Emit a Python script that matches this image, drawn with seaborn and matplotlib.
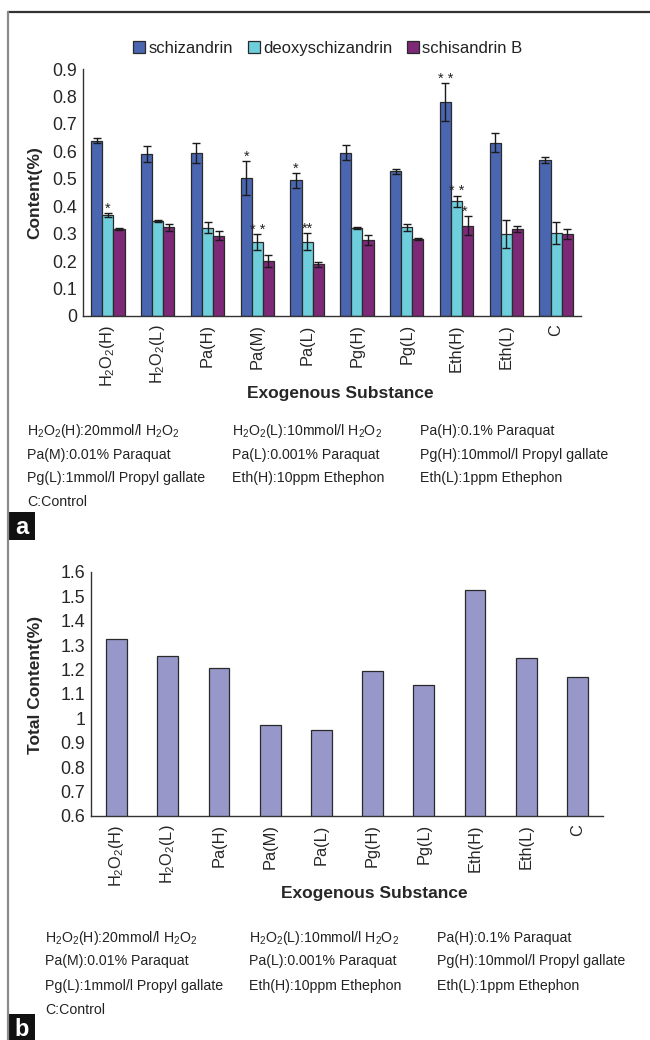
import numpy as np
import pandas as pd
import matplotlib.pyplot as plt
import seaborn as sns
from matplotlib.patches import Patch, Rectangle
from matplotlib.lines import Line2D

# ==========================
# DATA
# ==========================

categories = ["H2O2(H)", "H2O2(L)", "Pa(H)", "Pa(M)", "Pa(L)",
              "Pg(H)", "Pg(L)", "Eth(H)", "Eth(L)", "C"]
tick_labels = [r"H$_2$O$_2$(H)", r"H$_2$O$_2$(L)", "Pa(H)", "Pa(M)", "Pa(L)",
               "Pg(H)", "Pg(L)", "Eth(H)", "Eth(L)", "C"]
compounds = ["schizandrin", "deoxyschizandrin", "schisandrin B"]

schizandrin = [0.639, 0.590, 0.594, 0.502, 0.494, 0.595, 0.527, 0.779, 0.632, 0.568]
schizandrin_err = [0.010, 0.028, 0.035, 0.062, 0.028, 0.027, 0.010, 0.069, 0.034, 0.012]
deoxyschizandrin = [0.368, 0.346, 0.321, 0.270, 0.270, 0.321, 0.324, 0.418, 0.299, 0.302]
deoxyschizandrin_err = [0.008, 0.005, 0.020, 0.029, 0.031, 0.004, 0.013, 0.020, 0.052, 0.040]
schisandrin_b = [0.317, 0.324, 0.292, 0.200, 0.188, 0.277, 0.281, 0.329, 0.317, 0.299]
schisandrin_b_err = [0.002, 0.013, 0.016, 0.022, 0.008, 0.017, 0.003, 0.034, 0.011, 0.019]

total_content = [1.325, 1.255, 1.207, 0.973, 0.952, 1.195, 1.137, 1.527, 1.249, 1.168]

# significance marks: (category, compound, text)
marks = [
    ("H2O2(H)", "deoxyschizandrin", "*"),
    ("Pa(M)", "schizandrin", "*"),
    ("Pa(M)", "deoxyschizandrin", "* *"),
    ("Pa(L)", "schizandrin", "*"),
    ("Pa(L)", "deoxyschizandrin", "**"),
    ("Eth(H)", "schizandrin", "* *"),
    ("Eth(H)", "deoxyschizandrin", "* *"),
    ("Eth(H)", "schisandrin B", "*"),
]

legend_notes = [
    r"H$_2$O$_2$(H):20mmol/l H$_2$O$_2$", r"H$_2$O$_2$(L):10mmol/l H$_2$O$_2$", "Pa(H):0.1% Paraquat",
    "Pa(M):0.01% Paraquat", "Pa(L):0.001% Paraquat", "Pg(H):10mmol/l Propyl gallate",
    "Pg(L):1mmol/l Propyl gallate", "Eth(H):10ppm Ethephon", "Eth(L):1ppm Ethephon",
    "C:Control",
]

colors = ["#4a66b0", "#6ecedb", "#7e2878"]
total_color = "#9797c9"
edge = "#2a2a2a"

# ==========================
# STYLE
# ==========================

sns.set_style("white")
plt.rcParams["font.family"] = ["Liberation Sans", "DejaVu Sans"]
plt.rcParams["mathtext.fontset"] = "custom"
plt.rcParams["mathtext.rm"] = "Liberation Sans"
plt.rcParams["mathtext.it"] = "Liberation Sans"
plt.rcParams["text.color"] = "#222222"

W, H = 650, 1040
fig = plt.figure(figsize=(6.5, 10.4), dpi=100)


def fx(px):
    return px / W


def fy(py):
    return 1 - py / H


def style_axes(ax, ylim, step):
    ax.set_xlim(-0.5, len(categories) - 0.5)
    ax.set_ylim(*ylim)
    yt = np.round(np.arange(ylim[0], ylim[1] + step / 2, step), 2)
    ax.set_yticks(yt)
    ax.set_yticklabels([f"{v:g}" for v in yt], fontsize=12.8)
    ax.set_xticks(range(len(categories)))
    ax.set_xticklabels(tick_labels, rotation=90, fontsize=11.8)
    ax.set_xticks(np.arange(-0.5, len(categories), 1), minor=True)
    ax.tick_params(axis="x", which="major", length=0, pad=6)
    ax.tick_params(axis="x", which="minor", length=5, direction="in",
                   width=1, color="#333333")
    ax.tick_params(axis="y", length=5, direction="in", width=1,
                   color="#333333", pad=4)
    for s in ["top", "right"]:
        ax.spines[s].set_visible(False)
    for s in ["left", "bottom"]:
        ax.spines[s].set_color("#333333")
        ax.spines[s].set_linewidth(1.0)


# ==========================
# PANEL A
# ==========================

df = pd.DataFrame({
    "Substance": categories * 3,
    "Compound": np.repeat(compounds, len(categories)),
    "Content": schizandrin + deoxyschizandrin + schisandrin_b,
    "Err": schizandrin_err + deoxyschizandrin_err + schisandrin_b_err,
})

ax1 = fig.add_axes([fx(83), fy(316), fx(581) - fx(83), fy(69) - fy(316)])
sns.barplot(data=df, x="Substance", y="Content", hue="Compound",
            order=categories, hue_order=compounds, palette=colors,
            width=0.67, errorbar=None, edgecolor=edge, linewidth=0.9,
            saturation=1, ax=ax1)
if ax1.get_legend() is not None:
    ax1.get_legend().remove()

bar_top = {}
for cont, comp in zip(ax1.containers, compounds):
    sub = df[df["Compound"] == comp]
    xs = [p.get_x() + p.get_width() / 2 for p in cont.patches]
    ax1.errorbar(xs, sub["Content"], yerr=sub["Err"], fmt="none",
                 ecolor="#1a1a1a", elinewidth=1, capsize=3, capthick=1)
    for x, (_, r) in zip(xs, sub.iterrows()):
        bar_top[(r["Substance"], comp)] = (x, r["Content"] + r["Err"])

for cat, comp, txt in marks:
    x, top = bar_top[(cat, comp)]
    if comp == "schisandrin B":
        x -= 0.06
    ax1.text(x, top + 0.016, txt, ha="center", va="center", fontsize=10.5)

style_axes(ax1, (0, 0.9), 0.1)
ax1.set_xlabel("Exogenous Substance", fontsize=12.5, fontweight="bold")
ax1.xaxis.set_label_coords(0.516, -0.283)
ax1.set_ylabel("Content(%)", fontsize=12.5, fontweight="bold")
ax1.yaxis.set_label_coords(-0.082, 0.5)

handles = [Patch(facecolor=c, edgecolor=edge, linewidth=0.9) for c in colors]
fig.legend(handles, compounds, loc="center", ncol=3, frameon=False,
           bbox_to_anchor=(fx(328), fy(48)), fontsize=12,
           handlelength=0.7, handleheight=0.7, handletextpad=0.2,
           columnspacing=0.9)

# ==========================
# PANEL B
# ==========================

df_total = pd.DataFrame({"Substance": categories, "Total": total_content})

ax2 = fig.add_axes([fx(91), fy(816), fx(603) - fx(91), fy(572) - fy(816)])
sns.barplot(data=df_total, x="Substance", y="Total", order=categories,
            color=total_color, width=0.41, errorbar=None, edgecolor=edge,
            linewidth=0.9, saturation=1, ax=ax2)
style_axes(ax2, (0.6, 1.6), 0.1)
ax2.set_xlabel("Exogenous Substance", fontsize=12.5, fontweight="bold")
ax2.xaxis.set_label_coords(0.553, -0.287)
ax2.set_ylabel("Total Content(%)", fontsize=12.5, fontweight="bold")
ax2.yaxis.set_label_coords(-0.094, 0.537)

# ==========================
# FOOTNOTES
# ==========================

for cols, rows in [((27, 232, 420), (431, 455, 478, 502)),
                   ((45, 249, 437), (938, 961, 986, 1010))]:
    for i, note in enumerate(legend_notes):
        fig.text(fx(cols[i % 3]), fy(rows[i // 3]), note, fontsize=10.2,
                 ha="left", va="center")

# ==========================
# FRAME + PANEL LETTERS
# ==========================

fig.add_artist(Line2D([fx(8), 1], [fy(12), fy(12)], color="#333333", lw=1.6))
fig.add_artist(Line2D([fx(8), fx(8)], [fy(12), 0], color="#8a8a8a", lw=1.6))
for letter, top in [("a", 512), ("b", 1014)]:
    fig.add_artist(Rectangle((fx(8), fy(top + 28)), fx(27), 28 / H,
                             facecolor="#111111", edgecolor="none"))
    fig.text(fx(21.5), fy(top + 15), letter, color="white", fontsize=17,
             fontweight="bold", ha="center", va="center")

plt.savefig("out.png", dpi=100)
plt.close()
